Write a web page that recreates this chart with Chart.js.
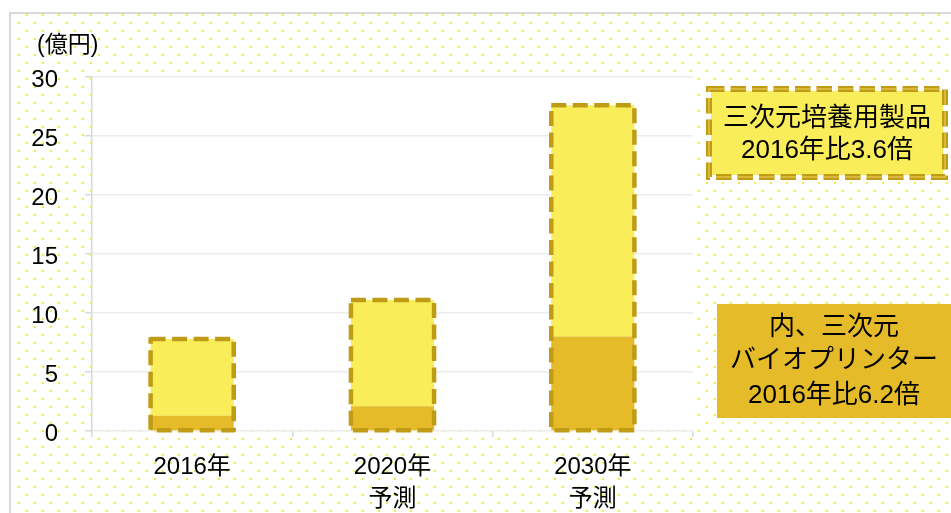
<!DOCTYPE html>
<html><head><meta charset="utf-8">
<script src="https://cdn.jsdelivr.net/npm/chart.js@4/dist/chart.umd.min.js"></script>
<style>html,body{margin:0;padding:0;background:#fff;overflow:hidden}#wrap{position:relative;width:951px;height:513px}</style>
</head><body><div id="wrap"><canvas id="c" width="951" height="513"></canvas></div>
<script>
// ---- data ----
const categories = [['2016年'], ['2020年', '予測'], ['2030年', '予測']];
const bioprinterValues = [1.3, 2.1, 8.0];      // 内、三次元バイオプリンター
const otherCultureValues = [6.5, 9.0, 19.6];  // 三次元培養用製品（残り）
const yMin = 0, yMax = 30, yStep = 5;
const unitLabel = '(億円)';
const totalBoxLines = ['三次元培養用製品', '2016年比3.6倍'];
const printerBoxLines = ['内、三次元', 'バイオプリンター', '2016年比6.2倍'];

// ---- styles ----
const FONT = '"Liberation Sans", "Noto Sans CJK JP", sans-serif';
const LIGHT = '#F9EE59';
const DARK = '#E5BB29';
const EDGE = '#BF9B16';

const bgPlugin = {
  id: 'bg',
  beforeDraw(chart) {
    const ctx = chart.ctx, W = chart.width, H = chart.height;
    ctx.save();
    ctx.fillStyle = '#fff';
    ctx.fillRect(0, 0, W, H);
    ctx.fillStyle = '#F6E64A';
    for (let k = 0, y = 14; y < H; k++, y += 8) {
      const x0 = (k % 2 === 0) ? 10 : 2;
      for (let x = x0; x < W; x += 16) {
        if (x < 12) continue;
        ctx.fillRect(x, y, 2, 2);
      }
    }
    ctx.fillStyle = '#D9D9D9';
    ctx.fillRect(9, 12, W - 9, 2);
    ctx.fillRect(9, 12, 2, H - 12);
    const a = chart.chartArea;
    ctx.fillStyle = '#fff';
    ctx.fillRect(a.left, a.top, a.right - a.left, a.bottom - a.top);
    ctx.restore();
  }
};

const outlinePlugin = {
  id: 'outline',
  afterDatasetsDraw(chart) {
    const ctx = chart.ctx;
    const low = chart.getDatasetMeta(0).data;
    const up = chart.getDatasetMeta(1).data;
    ctx.save();
    ctx.strokeStyle = EDGE;
    ctx.lineWidth = 4.5;
    ctx.setLineDash([15, 6.5]);
    ctx.lineJoin = 'round';
    for (let i = 0; i < low.length; i++) {
      const b0 = low[i], b1 = up[i];
      const left = b0.x - b0.width / 2, right = b0.x + b0.width / 2;
      const top = b1.y, bottom = b0.base;
      ctx.beginPath();
      ctx.rect(left, top, right - left, bottom - top);
      ctx.stroke();
    }
    ctx.restore();
  }
};

function drawLines(ctx, lines, cx, ys) {
  ctx.fillStyle = '#000';
  ctx.textAlign = 'center';
  ctx.textBaseline = 'middle';
  ctx.font = '26px ' + FONT;
  lines.forEach((t, i) => ctx.fillText(t, cx, ys[i]));
}

const notePlugin = {
  id: 'notes',
  afterDraw(chart) {
    const ctx = chart.ctx;
    ctx.save();
    // unit label
    ctx.fillStyle = '#000';
    ctx.font = '23px ' + FONT;
    ctx.textAlign = 'left';
    ctx.textBaseline = 'middle';
    ctx.fillText(unitLabel, 37, 46);

    // box 1
    let x = 706, y = 86, w = 242, h = 94;
    ctx.fillStyle = '#fff';
    ctx.fillRect(x, y, w, h);
    ctx.fillStyle = LIGHT;
    ctx.fillRect(x + 5, y + 5, w - 10, h - 10);
    ctx.setLineDash([15.5, 6]);
    ctx.strokeStyle = '#BF9B16';
    ctx.lineWidth = 6;
    ctx.strokeRect(x + 3, y + 3, w - 6, h - 6);
    ctx.strokeStyle = '#E2C44A';
    ctx.lineWidth = 1.5;
    ctx.strokeRect(x + 3, y + 3, w - 6, h - 6);
    ctx.setLineDash([]);
    drawLines(ctx, totalBoxLines, x + w / 2, [119, 151]);

    // box 2
    x = 717; y = 304; w = 234; h = 114;
    ctx.fillStyle = DARK;
    ctx.fillRect(x, y, w, h);
    drawLines(ctx, printerBoxLines, x + w / 2, [328, 361, 396]);
    ctx.restore();
  }
};

new Chart(document.getElementById('c'), {
  type: 'bar',
  data: {
    labels: categories,
    datasets: [
      { label: '三次元バイオプリンター', data: bioprinterValues, backgroundColor: DARK, borderWidth: 0 },
      { label: '三次元培養用製品', data: otherCultureValues, backgroundColor: LIGHT, borderWidth: 0 }
    ]
  },
  options: {
    responsive: false,
    animation: false,
    devicePixelRatio: 1,
    layout: { padding: { left: 0, top: 77, right: 258, bottom: 0 } },
    plugins: { legend: { display: false }, tooltip: { enabled: false } },
    datasets: { bar: { categoryPercentage: 1, barPercentage: 0.415 } },
    scales: {
      x: {
        stacked: true,
        grid: { offset: true, drawOnChartArea: false, drawTicks: true, tickLength: 6, color: '#D9D9D9', lineWidth: 1.5 },
        border: { display: false },
        ticks: { color: '#000', font: { family: FONT, size: 24, lineHeight: 1.35 }, padding: 14, maxRotation: 0 },
        afterFit(s) { s.height = 82; }
      },
      y: {
        stacked: true,
        min: yMin, max: yMax,
        ticks: { stepSize: yStep, color: '#000', font: { family: FONT, size: 24 }, padding: 27, labelOffset: 3 },
        grid: { color: '#ECECEC', lineWidth: 1.5, tickLength: 7, tickColor: '#D9D9D9' },
        border: { color: '#D9D9D9', width: 1.5 },
        afterFit(s) { s.width = 92; }
      }
    }
  },
  plugins: [bgPlugin, outlinePlugin, notePlugin]
});
</script>
</body></html>
